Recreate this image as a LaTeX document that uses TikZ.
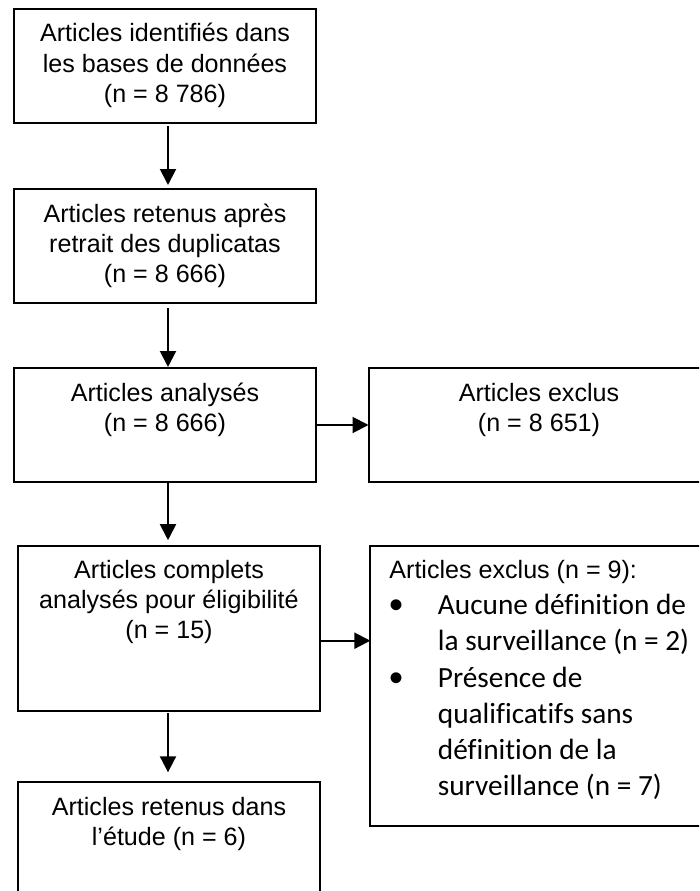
\documentclass[tikz,border=0pt]{standalone}
\usepackage{fontspec}
\setmainfont[Ligatures=NoCommon]{Liberation Sans}
\newfontfamily\calibrifont[Ligatures=NoCommon]{Carlito}
\usetikzlibrary{arrows.meta, positioning}

% text set from the top of a box
\newcommand{\toplines}[2]{\parbox[c][#1][t]{290pt}{\centering\strut #2\strut}}
\newcommand{\bulletsym}{\raisebox{-4pt}{\fontspec{Liberation Sans}\fontsize{40}{36}\selectfont\textbullet}}
\newcommand{\bulletitem}[1]{\noindent\makebox[48.5pt][l]{\bulletsym}%
  \parbox[t]{256pt}{\raggedright\strut #1\strut}\par}

\begin{document}
\begin{tikzpicture}[
  x=1pt, y=-1pt,
  flowbox/.style={rectangle, draw=black, line width=2pt, outer sep=0pt,
    inner sep=0pt, minimum width=302pt, minimum height=114pt,
    font=\fontsize{25.1}{30}\selectfont},
  exclbox/.style={flowbox, minimum width=341pt},
  arr/.style={-{Triangle[width=16pt, length=16pt]}, line width=2pt}
]
  \useasboundingbox (0,0) rectangle (699,891);
  \clip (0,0) rectangle (699,891);

  % main column
  \node[flowbox] (ident) at (165,66)
    {\toplines{90pt}{Articles identifiés dans\\les bases de données\\(n = 8 786)}};
  \node[flowbox, below=66pt of ident] (retenus)
    {\toplines{90pt}{Articles retenus après\\retrait des duplicatas\\(n = 8 666)}};
  \node[flowbox, below=65pt of retenus] (analyses)
    {\toplines{90pt}{Articles analysés\\(n = 8 666)}};
  \node[flowbox, minimum height=165pt, below=63.7pt of analyses, xshift=4pt] (complets)
    {\toplines{141pt}{Articles complets\\analysés pour éligibilité\\(n = 15)}};
  \node[flowbox, below=71.6pt of complets] (final)
    {\toplines{90pt}{Articles retenus dans\\l’étude (n = 6)}};

  % exclusions
  \node[exclbox, right=52.5pt of analyses] (exclus)
    {\parbox[c][90pt][t]{300pt}{\centering\strut Articles exclus\\(n = 8 651)\strut}};
  \node[exclbox, minimum height=280pt, minimum width=340pt,
    below right=0pt and 50.4pt of complets.north east] (exclusfull)
    {\parbox[c][256pt][t]{302pt}{\raggedright\strut Articles exclus (n = 9):\par
      \calibrifont\fontsize{29.3}{36}\selectfont
      \bulletitem{Aucune définition de\\la surveillance (n = 2)}
      \bulletitem{Présence de\\qualificatifs sans\\définition de la\\surveillance (n = 7)}}};

  \coordinate (fork) at ([yshift=-12.5pt]complets.east);

  \draw[arr, shorten <=3pt, shorten >=4pt] ([xshift=3pt]ident.south) -- ([xshift=3pt]retenus.north);
  \draw[arr, shorten <=5pt, shorten >=1pt] ([xshift=3pt]retenus.south) -- ([xshift=3pt]analyses.north);
  \draw[arr, shorten <=1pt, shorten >=5.5pt] ([xshift=3pt]analyses.south) -- ([xshift=-1pt]complets.north);
  \draw[arr, shorten <=2.5pt, shorten >=10pt] ([xshift=-1pt]complets.south) -- ([xshift=-1pt]final.north);
  \draw[arr] (analyses.east) -- (exclus.west);
  \draw[arr] (fork) -- (fork -| exclusfull.west);
\end{tikzpicture}
\end{document}
